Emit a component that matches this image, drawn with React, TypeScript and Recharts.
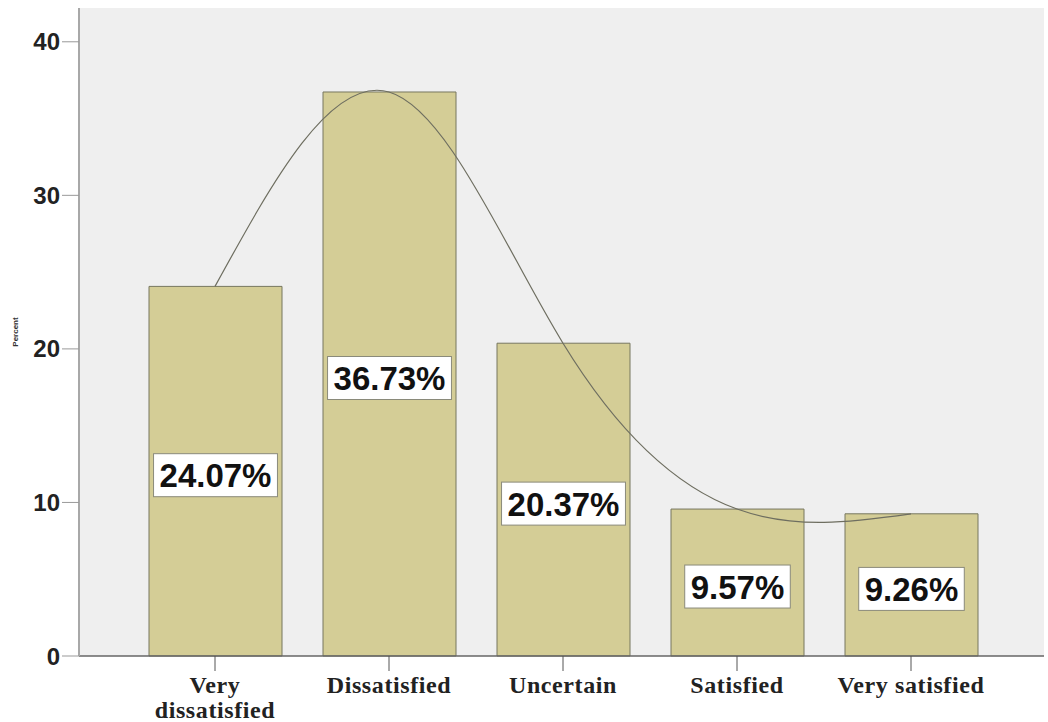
import { ComposedChart, Bar, Line, XAxis, YAxis, CartesianGrid, LabelList, Label } from 'recharts';

const categories = ['Very dissatisfied', 'Dissatisfied', 'Uncertain', 'Satisfied', 'Very satisfied'];
const percents = [24.07, 36.73, 20.37, 9.57, 9.26];
const yTicks = [0, 10, 20, 30, 40];

const data = categories.map((name, i) => ({ name, pct: percents[i] }));

const XTick = (props: any) => {
  const { x, y, payload } = props;
  const words = String(payload.value).split(' ');
  // only the first one is split over two lines in the original
  const lines = payload.value === 'Very dissatisfied' ? words : [payload.value];
  return (
    <text
      x={x}
      y={y}
      textAnchor="middle"
      fontFamily="'Liberation Serif', 'Times New Roman', serif"
      fontWeight="bold"
      fontSize={24}
      letterSpacing={0.6}
      fill="#222"
    >
      {lines.map((l: string, i: number) => (
        <tspan key={i} x={x} dy={i === 0 ? 20 : 25}>
          {l}
        </tspan>
      ))}
    </text>
  );
};

const PctLabel = (props: any) => {
  const { x, y, width, height, value } = props;
  const txt = `${value.toFixed(2)}%`;
  const fs = 33;
  const ems = txt.split('').reduce((s: number, c: string) => s + (c === '.' ? 0.278 : c === '%' ? 0.889 : 0.556), 0);
  const w = ems * fs + 12;
  const h = 43;
  const cx = x + width / 2;
  const cy = y + height / 2 + 4;
  return (
    <g>
      <rect x={cx - w / 2} y={cy - h / 2} width={w} height={h} fill="#ffffff" stroke="#8a8a7a" strokeWidth={1} />
      <text
        x={cx}
        y={cy + 12}
        textAnchor="middle"
        fontFamily="'Liberation Sans', Arial, sans-serif"
        fontWeight="bold"
        fontSize={fs}
        fill="#111"
      >
        {txt}
      </text>
    </g>
  );
};

export default function App() {
  return (
    <div style={{ position: 'absolute', left: 0, top: 0, background: '#fff' }}>
      <ComposedChart width={1048} height={722} data={data} margin={{ top: 8, right: 4, bottom: 0, left: 0 }}>
        <CartesianGrid fill="#efefef" horizontal={false} vertical={false} />
        <XAxis
          dataKey="name"
          height={66}
          padding={{ left: 49, right: 46 }}
          tickSize={15}
          tick={<XTick />}
          interval={0}
          axisLine={{ stroke: '#666', strokeWidth: 1.5 }}
          tickLine={{ stroke: '#555' }}
        />
        <XAxis xAxisId="top" dataKey="name" orientation="top" height={0} tick={false} tickLine={false} axisLine={{ stroke: '#b0b0b0', strokeWidth: 2 }} />
        <YAxis
          width={79}
          domain={[0, 42.2]}
          ticks={yTicks}
          tickSize={17}
          tickMargin={2}
          axisLine={{ stroke: '#a8a8a8', strokeWidth: 2 }}
          tickLine={{ stroke: '#999' }}
          tick={{ fontFamily: "'Liberation Sans', Arial, sans-serif", fontWeight: 'bold', fontSize: 24, fill: '#222' }}
        >
          <Label
            value="Percent"
            angle={-90}
            position="insideLeft"
            offset={15}
            style={{ fontFamily: "'Liberation Sans', Arial, sans-serif", fontSize: 8, fontWeight: 'bold', fill: '#333', textAnchor: 'middle' }}
          />
        </YAxis>
        <YAxis yAxisId="right" orientation="right" width={0} tick={false} tickLine={false} axisLine={{ stroke: '#b0b0b0', strokeWidth: 2 }} />
        <Bar dataKey="pct" barSize={133} fill="#d4cd96" stroke="#77775f" strokeWidth={1} isAnimationActive={false}>
          <LabelList dataKey="pct" content={<PctLabel />} />
        </Bar>
        <Line type="natural" dataKey="pct" stroke="#6e6e60" strokeWidth={1.2} dot={false} activeDot={false} isAnimationActive={false} />
      </ComposedChart>
    </div>
  );
}
